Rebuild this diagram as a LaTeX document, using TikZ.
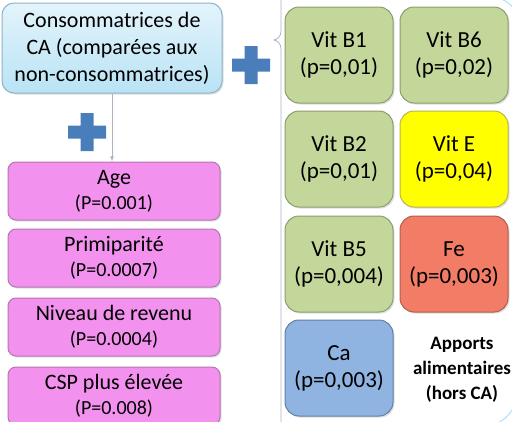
\documentclass[tikz,border=0pt]{standalone}
\usepackage{fontspec}
\setmainfont{Carlito}
\usetikzlibrary{shadows}

\definecolor{topfill}{HTML}{B9E3F5}
\definecolor{topline}{HTML}{8DB3C8}
\definecolor{pinkfill}{HTML}{F391EF}
\definecolor{pinkline}{HTML}{B276AE}
\definecolor{greenfill}{HTML}{C4D79B}
\definecolor{greenline}{HTML}{8E9C6C}
\definecolor{yellowfill}{HTML}{FFFF00}
\definecolor{yellowline}{HTML}{B9B64A}
\definecolor{redfill}{HTML}{F27C66}
\definecolor{redline}{HTML}{B25D4C}
\definecolor{bluefill}{HTML}{90B4E2}
\definecolor{blueline}{HTML}{5E7FA8}
\definecolor{plusblue}{HTML}{4A7EBB}
\definecolor{panelline}{HTML}{A9B3C2}

\begin{document}
\begin{tikzpicture}[x=1pt, y=-1pt,
    box/.style={rounded corners=10pt, inner sep=0pt, align=center, line width=1pt,
      drop shadow={opacity=0.25, shadow xshift=1.5pt, shadow yshift=-1.5pt}},
    topbox/.style={box, draw=topline, top color=topfill!40!white, bottom color=topfill,
      minimum width=220pt, minimum height=90pt, rounded corners=12pt,
      font=\fontsize{22}{27}\selectfont},
    pinkbox/.style={box, draw=pinkline, fill=pinkfill, minimum width=212pt, minimum height=58pt,
      rounded corners=8pt, font=\fontsize{22}{25}\selectfont},
    vitbox/.style={box, minimum width=108pt, minimum height=96pt, rounded corners=14pt,
      font=\fontsize{23}{27}\selectfont}]
  \useasboundingbox (0,0) rectangle (512,421);

  % panel on the right, with its brace
  \draw[panelline, line width=0.8pt] (281,-2) -- (281,30) .. controls (281,38) and (277,39) .. (274,40)
    .. controls (277,41) and (281,42) .. (281,50) -- (281,423);
  \draw[cyan!35, line width=1pt] (499,-2) .. controls (506,1) .. (513,7);
  \draw[cyan!35, line width=1pt] (498,423) .. controls (506,418) .. (513,409);

  % left column
  \node[topbox] (ca) at (112,48) {Consommatrices de\\CA (comparées aux\\non-consommatrices)};
  \node[pinkbox] (age) at (114,191) {Age\\{\fontsize{20}{20}\selectfont(P=0.001)}};
  \node[pinkbox] (primi) at (114,258) {Primiparité\\{\fontsize{20}{20}\selectfont(P=0.0007)}};
  \node[pinkbox] (revenu) at (114,327) {Niveau de revenu\\{\fontsize{20}{20}\selectfont(P=0.0004)}};
  \node[pinkbox] (csp) at (114,396) {CSP plus élevée\\{\fontsize{20}{20}\selectfont(P=0.008)}};
  \draw[panelline, line width=0.8pt, -latex] (ca.south) -- (ca.south |- age.north);

  % right grid
  \node[vitbox, draw=greenline, fill=greenfill] (b1) at (339,55) {Vit B1\\(p=0,01)};
  \node[vitbox, draw=greenline, fill=greenfill] (b6) at (454,55) {Vit B6\\(p=0,02)};
  \node[vitbox, draw=greenline, fill=greenfill] (b2) at (339,159) {Vit B2\\(p=0,01)};
  \node[vitbox, draw=yellowline, fill=yellowfill] (vite) at (454,159) {Vit E\\(p=0,04)};
  \node[vitbox, draw=greenline, fill=greenfill] (b5) at (339,264) {Vit B5\\(p=0,004)};
  \node[vitbox, draw=redline, fill=redfill] (fe) at (454,264) {Fe\\(p=0,003)};
  \node[vitbox, draw=blueline, fill=bluefill] (calc) at (339,368) {Ca\\(p=0,003)};
  \node[align=center, font=\fontsize{19}{25}\selectfont\bfseries] (apports) at (462,370)
    {Apports\\alimentaires\\(hors CA)};

  % plus signs
  \fill[plusblue, shift={(251,65)}] (-6.5,-19) -- (6.5,-19) -- (6.5,-6.5) -- (19,-6.5) -- (19,6.5)
    -- (6.5,6.5) -- (6.5,19) -- (-6.5,19) -- (-6.5,6.5) -- (-19,6.5) -- (-19,-6.5) -- (-6.5,-6.5) -- cycle;
  \fill[plusblue, shift={(87,132)}] (-6.5,-19) -- (6.5,-19) -- (6.5,-6.5) -- (19,-6.5) -- (19,6.5)
    -- (6.5,6.5) -- (6.5,19) -- (-6.5,19) -- (-6.5,6.5) -- (-19,6.5) -- (-19,-6.5) -- (-6.5,-6.5) -- cycle;
\end{tikzpicture}
\end{document}
